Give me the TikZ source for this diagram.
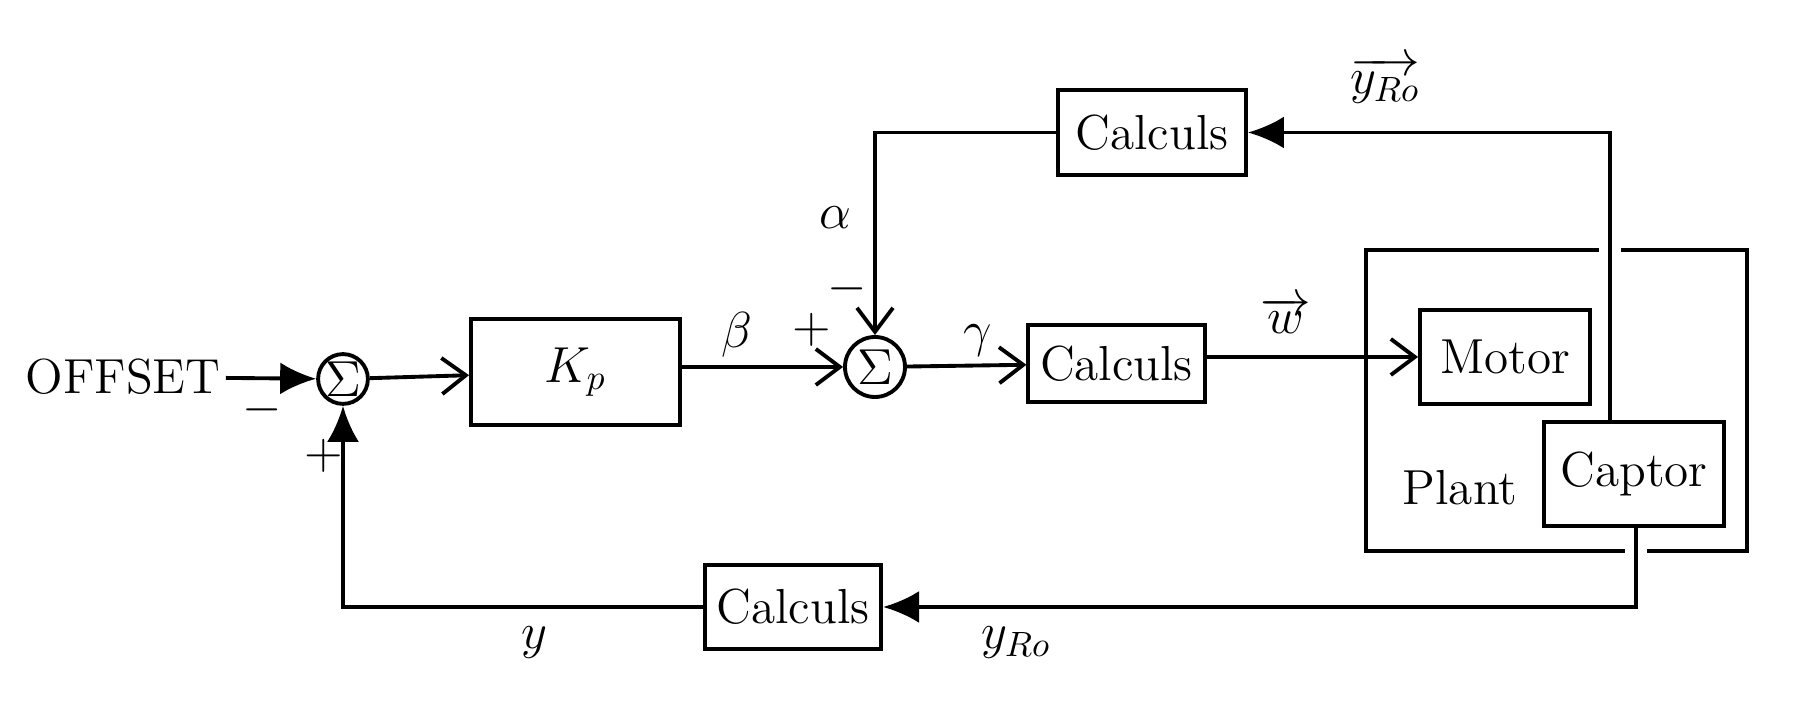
\documentclass[tikz,border=0pt]{standalone}
\usetikzlibrary{arrows.meta,positioning,calc}
\begin{document}
\begin{tikzpicture}[>=Latex,font=\fontsize{14}{16}\selectfont,line width=1.1pt,
 box/.style={draw,fill=white,minimum width=1.6cm,minimum height=0.8cm,align=center},
 sum/.style={draw,circle,fill=white,inner sep=0pt,minimum size=0.46cm},
 arr/.style={-{Straight Barb[length=2.4mm,width=3.6mm]}},
 farr/.style={-{Latex[length=3.6mm,width=3.2mm]}},
 halo/.style={preaction={draw=white,line width=6pt,-,shorten <=1pt,shorten >=1pt}}]
\useasboundingbox (0,0) rectangle (18,-7.14);
% plant frame
\node[draw,minimum width=3.81cm,minimum height=3.01cm] (plant) at (15.565,-4.005) {};
\node (plantlbl) at (14.6,-4.88) {Plant};
% blocks
\node[inner sep=1pt] (offset) at (1.23,-3.77) {OFFSET};
\node[sum] (s1) at (3.43,-3.79) {$\Sigma$};
\node[box,minimum width=2.09cm,minimum height=1.06cm] (kp) at (5.755,-3.72) {$K_p$};
\node[sum,minimum size=0.6cm] (s2) at (8.75,-3.67) {$\Sigma$};
\node[box,minimum width=1.59cm,minimum height=0.77cm] (cm) at (11.165,-3.635) {Calculs};
\node[box,minimum width=1.70cm,minimum height=0.94cm] (motor) at (15.05,-3.57) {Motor};
\node[box,minimum width=1.80cm,minimum height=1.04cm] (captor) at (16.34,-4.74) {Captor};
\node[box,minimum width=1.88cm,minimum height=0.85cm] (ct) at (11.52,-1.325) {Calculs};
\node[box,minimum width=1.52cm,minimum height=0.84cm] (cb) at (7.93,-6.07) {Calculs};
\coordinate (tr) at (16.1,-1.2);
\coordinate (br) at (16.36,-5.95);
% forward path
\draw[farr] (offset) -- (s1);
\draw[arr] (s1) -- (kp);
\draw[arr] (kp.east |- s2) -- (s2);
\draw[arr] (s2) -- (cm);
\draw[arr] (cm.east |- motor) -- (motor);
% feedback paths
\draw[farr,halo] (captor.north -| tr) |- (ct.east);
\draw[arr] (ct.west) -| (s2.north);
\draw[farr,halo] (captor.south -| br) |- (cb.east);
\draw[farr] (cb.west) -| (s1.south);
% signs and signals
\node (m1) at (2.62,-4.10) {$-$};
\node (p1) at (3.24,-4.56) {$+$};
\node (beta) at (7.37,-3.35) {$\beta$};
\node (p2) at (8.12,-3.30) {$+$};
\node (alpha) at (8.35,-2.18) {$\alpha$};
\node (m2) at (8.47,-2.89) {$-$};
\node (gamma) at (9.78,-3.41) {$\gamma$};
\node (w) at (12.86,-3.15) {$\overrightarrow{w}$};
\node (yrotop) at (13.85,-0.80) {$\overrightarrow{y_{Ro}}$};
\node (yrobot) at (10.16,-6.43) {$y_{Ro}$};
\node (y) at (5.34,-6.43) {$y$};
\end{tikzpicture}
\end{document}
